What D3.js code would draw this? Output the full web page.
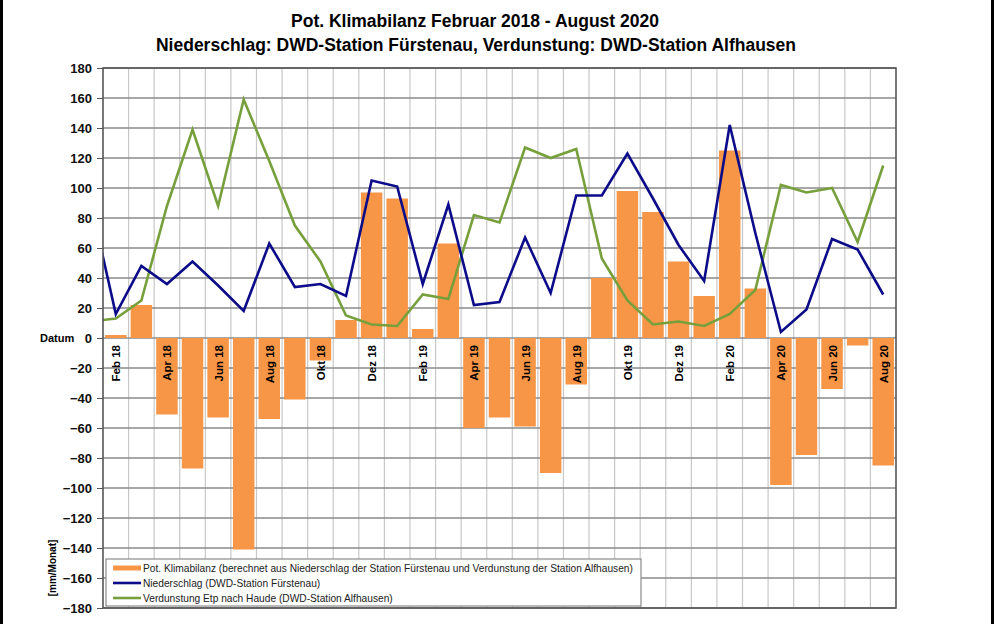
<!DOCTYPE html>
<html>
<head>
<meta charset="utf-8">
<script src="https://cdn.jsdelivr.net/npm/d3@7"></script>
<style>
body { margin: 0; background: #fff; }
svg { display: block; font-family: "Liberation Sans", Arial, sans-serif; }
.axis path { display: none; }
.axis.y line { stroke: #555; }
.axis.y text { font-size: 13px; font-weight: bold; fill: #111; }
</style>
</head>
<body>
<svg width="994" height="624"></svg>
<script>
const width = 994
const height = 624
const margin = { top: 68, bottom: 16, left: 103, right: 98 }

// Monate Feb 18 - Aug 20
const months = ["Feb 18", "Mrz 18", "Apr 18", "Mai 18", "Jun 18", "Jul 18", "Aug 18", "Sep 18", "Okt 18", "Nov 18", "Dez 18",
  "Jan 19", "Feb 19", "Mrz 19", "Apr 19", "Mai 19", "Jun 19", "Jul 19", "Aug 19", "Sep 19", "Okt 19", "Nov 19", "Dez 19",
  "Jan 20", "Feb 20", "Mrz 20", "Apr 20", "Mai 20", "Jun 20", "Jul 20", "Aug 20"]
const tickLabels = ["Feb 18", "Apr 18", "Jun 18", "Aug 18", "Okt 18", "Dez 18", "Feb 19", "Apr 19", "Jun 19", "Aug 19",
  "Okt 19", "Dez 19", "Feb 20", "Apr 20", "Jun 20", "Aug 20"]
const yTicks = [-180, -160, -140, -120, -100, -80, -60, -40, -20, 0, 20, 40, 60, 80, 100, 120, 140, 160, 180]

// Pot. Klimabilanz [mm/Monat]
const klimabilanz = [2, 22, -51, -87, -53, -141, -54, -41, -15, 12, 97, 93, 6, 63, -60, -53, -59, -90, -31,
  40, 98, 84, 51, 28, 125, 33, -98, -78, -34, -5, -85]
// Niederschlag DWD-Station Fürstenau
const niederschlag = [16, 48, 36, 51, 35, 18, 63, 34, 36, 28, 105, 101, 36, 89, 22, 24, 67, 30, 95,
  95, 123, 93, 62, 38, 142, 70, 4, 19, 66, 59, 29]
// Verdunstung Etp nach Haude DWD-Station Alfhausen
const verdunstung = [13, 25, 88, 139, 88, 159, 118, 75, 51, 15, 9, 8, 29, 26, 82, 77, 127, 120, 126,
  53, 25, 9, 11, 8, 16, 32, 102, 97, 100, 64, 115]
// Werte Jan 18 (links abgeschnitten)
const niederschlagJan18 = 92
const verdunstungJan18 = 11

const x = d3.scaleBand().domain(months)
  .range([margin.left, width - margin.right])
  .paddingInner(0.16).paddingOuter(0.08)
const y = d3.scaleLinear().domain([-180, 180])
  .range([height - margin.bottom, margin.top])

const svg = d3.select("svg")
const step = x.step()
const cx = function (m) { return x(m) + x.bandwidth() / 2 }
const left = margin.left, right = width - margin.right

// Rahmen links/rechts
svg.append("rect").attr("x", 0).attr("y", 0).attr("width", 3).attr("height", height).attr("fill", "#000")
svg.append("rect").attr("x", 991).attr("y", 0).attr("width", 3).attr("height", height).attr("fill", "#000")

// Titel
svg.append("text").attr("x", 475).attr("y", 27).attr("text-anchor", "middle")
  .style("font-size", "17.5px").style("font-weight", "bold")
  .text("Pot. Klimabilanz Februar 2018 - August 2020")
svg.append("text").attr("x", 476).attr("y", 51).attr("text-anchor", "middle")
  .style("font-size", "17.5px").style("font-weight", "bold")
  .text("Niederschlag: DWD-Station Fürstenau, Verdunstung: DWD-Station Alfhausen")

// Gitter
const grid = svg.append("g")
grid.selectAll("line.v")
  .data(d3.range(1, months.length))
  .enter().append("line")
  .attr("x1", function (i) { return left + i * step })
  .attr("x2", function (i) { return left + i * step })
  .attr("y1", y(180)).attr("y2", y(-180))
  .attr("stroke", "#c8c8c8").attr("stroke-width", 1.2)
grid.selectAll("line.h")
  .data(yTicks)
  .enter().append("line")
  .attr("x1", left).attr("x2", right)
  .attr("y1", function (d) { return y(d) })
  .attr("y2", function (d) { return y(d) })
  .attr("stroke", "#8a8a8a").attr("stroke-width", 1.5)

// Balken
svg.append("g").selectAll("rect")
  .data(klimabilanz)
  .enter().append("rect")
  .attr("x", function (d, i) { return x(months[i]) })
  .attr("width", x.bandwidth())
  .attr("y", function (d) { return y(Math.max(0, d)) })
  .attr("height", function (d) { return Math.abs(y(d) - y(0)) })
  .attr("fill", "#f79646")

// X-Beschriftung
svg.append("g").selectAll("text")
  .data(tickLabels)
  .enter().append("text")
  .attr("transform", function (d) { return "translate(" + (cx(d) + 4.5) + "," + (y(0) + 7) + ") rotate(-90)" })
  .attr("text-anchor", "end")
  .style("font-size", "11.5px").style("font-weight", "bold")
  .text(function (d) { return d })

// Linien
svg.append("clipPath").attr("id", "plot")
  .append("rect").attr("x", left).attr("y", margin.top).attr("width", right - left).attr("height", y(-180) - y(180))

const line = d3.line()
  .x(function (d) { return d[0] })
  .y(function (d) { return y(d[1]) })
const firstX = cx(months[0]) - step

function series(lead, values) {
  return [[firstX, lead]].concat(values.map(function (v, i) { return [cx(months[i]), v] }))
}

svg.append("path")
  .datum(series(verdunstungJan18, verdunstung))
  .attr("clip-path", "url(#plot)")
  .attr("d", line).attr("fill", "none")
  .attr("stroke", "#77a03c").attr("stroke-width", 2.6)
svg.append("path")
  .datum(series(niederschlagJan18, niederschlag))
  .attr("clip-path", "url(#plot)")
  .attr("d", line).attr("fill", "none")
  .attr("stroke", "#0c0c8a").attr("stroke-width", 2.6)

// Achsen
svg.append("g")
  .attr("class", "axis y")
  .attr("transform", "translate(" + left + ",0)")
  .call(d3.axisLeft(y).tickValues(yTicks).tickSize(6).tickPadding(5))

svg.append("rect")
  .attr("x", left).attr("y", y(180)).attr("width", right - left).attr("height", y(-180) - y(180))
  .attr("fill", "none").attr("stroke", "#555").attr("stroke-width", 1.6)

svg.append("text").attr("x", 40).attr("y", y(0) + 4)
  .style("font-size", "11px").style("font-weight", "bold").text("Datum")
svg.append("text")
  .attr("transform", "translate(56," + 568 + ") rotate(-90)")
  .attr("text-anchor", "middle")
  .style("font-size", "10px").style("font-weight", "bold").text("[mm/Monat]")

// Legende
const legendItems = [
  { label: "Pot. Klimabilanz (berechnet aus Niederschlag der Station Fürstenau und Verdunstung der Station Alfhausen)", color: "#f79646", w: 5 },
  { label: "Niederschlag (DWD-Station Fürstenau)", color: "#0c0c8a", w: 2.6 },
  { label: "Verdunstung Etp nach Haude (DWD-Station Alfhausen)", color: "#77a03c", w: 2.6 }
]
const legend = svg.append("g").attr("class", "legend")
legend.append("rect").attr("x", 106).attr("y", 559).attr("width", 535).attr("height", 47)
  .attr("fill", "#fff").attr("stroke", "#8a8a8a").attr("stroke-width", 1.2)
legendItems.forEach(function (d, i) {
  const ly = 568 + i * 15
  legend.append("line").attr("x1", 113).attr("x2", 141).attr("y1", ly).attr("y2", ly)
    .attr("stroke", d.color).attr("stroke-width", d.w)
  legend.append("text").attr("x", 143).attr("y", ly + 3.5)
    .style("font-size", "10.2px").style("fill", "#222").text(d.label)
})
</script>
</body>
</html>
